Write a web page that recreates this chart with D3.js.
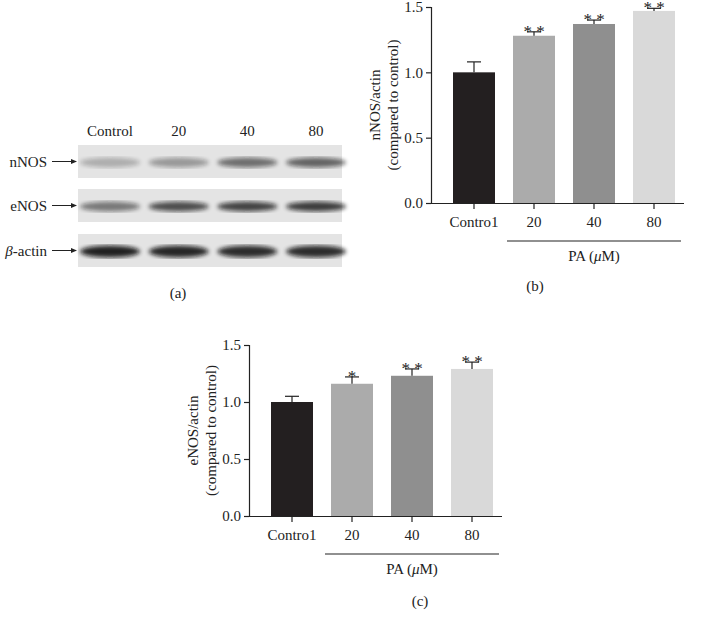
<!DOCTYPE html>
<html><head><meta charset="utf-8">
<script src="https://cdn.jsdelivr.net/npm/d3@7"></script>
<style>body{margin:0;background:#fff}text{font-family:"Liberation Serif",serif;fill:#222}</style>
</head><body>
<svg id="fig" width="704" height="628"></svg>
<script>
const groups = ["Contro1", "20", "40", "80"];
const blotLanes = ["Control", "20", "40", "80"];
const barColors = ["#231f20", "#ababab", "#8f8f8f", "#d9d9d9"];
const nnosMean = [1.0, 1.28, 1.37, 1.47];
const nnosErr = [0.08, 0.03, 0.03, 0.02];
const nnosSig = ["", "**", "**", "**"];
const enosMean = [1.0, 1.16, 1.23, 1.29];
const enosErr = [0.05, 0.06, 0.06, 0.06];
const enosSig = ["", "*", "**", "**"];
const yTicks = [0, 0.5, 1.0, 1.5];
// band darkness per lane (0..1)
const blotRows = ["nNOS", "eNOS", "β-actin"];
const bandDark = [[0.25, 0.35, 0.55, 0.6], [0.5, 0.7, 0.75, 0.78], [0.9, 0.88, 0.85, 0.85]];

const svg = d3.select("#fig");
const defs = svg.append("defs");
defs.append("filter").attr("id", "blur").append("feGaussianBlur").attr("stdDeviation", 2.2);

function barPanel(o) {
  const x = d3.scaleBand().domain(groups).range([o.x0, o.x0 + 240]).paddingInner(0.3).paddingOuter(0.15);
  const y = d3.scaleLinear().domain([0, 1.5]).range([o.yb, o.yt]);
  const g = svg.append("g");
  g.selectAll(".bar").data(groups).join("rect")
    .attr("x", d => x(d)).attr("width", x.bandwidth())
    .attr("y", (d, i) => y(o.mean[i])).attr("height", (d, i) => y(0) - y(o.mean[i]))
    .attr("fill", (d, i) => barColors[i]);
  const eg = g.selectAll(".err").data(groups).join("g").attr("stroke", "#222").attr("stroke-width", 1.2);
  eg.append("line").attr("x1", d => x(d) + x.bandwidth() / 2).attr("x2", d => x(d) + x.bandwidth() / 2)
    .attr("y1", (d, i) => y(o.mean[i])).attr("y2", (d, i) => y(o.mean[i] + o.err[i]));
  eg.append("line").attr("x1", d => x(d) + x.bandwidth() / 2 - 7).attr("x2", d => x(d) + x.bandwidth() / 2 + 7)
    .attr("y1", (d, i) => y(o.mean[i] + o.err[i])).attr("y2", (d, i) => y(o.mean[i] + o.err[i]));
  g.selectAll(".sig").data(groups).join("text")
    .attr("x", d => x(d) + x.bandwidth() / 2).attr("y", (d, i) => Math.max(11, y(o.mean[i] + o.err[i]) + 5))
    .attr("text-anchor", "middle").attr("font-size", 17)
    .text((d, i) => o.sig[i].split("").join(" "));
  const ya = g.append("g").attr("transform", `translate(${o.ax},0)`)
    .call(d3.axisLeft(y).tickValues(yTicks).tickFormat(d3.format(".1f")).tickSizeOuter(0).tickSize(5));
  ya.selectAll("text").attr("font-size", 15);
  const xa = g.append("g").attr("transform", `translate(0,${o.yb})`)
    .call(d3.axisBottom(x).tickSizeOuter(0).tickSize(6));
  xa.selectAll("text").attr("font-size", 15).attr("dy", "1.0em");
  xa.select(".domain").attr("d", `M${o.ax},0.5H${o.x0 + 240}`);
  g.selectAll(".domain,.tick line").attr("stroke", "#222").attr("stroke-width", 1.2);
  const lx0 = x("20") - 6, lx1 = x("80") + x.bandwidth() + 6;
  g.append("line").attr("x1", lx0).attr("x2", lx1).attr("y1", o.yb + 38).attr("y2", o.yb + 38).attr("stroke", "#222").attr("stroke-width", 1.2);
  const t = g.append("text").attr("x", (lx0 + lx1) / 2).attr("y", o.yb + 58).attr("text-anchor", "middle").attr("font-size", 15);
  t.append("tspan").text("PA (");
  t.append("tspan").attr("font-style", "italic").text("μ");
  t.append("tspan").text("M)");
  const lab = g.append("text").attr("transform", `translate(${o.ax - 42},${(o.yt + o.yb) / 2}) rotate(-90)`)
    .attr("text-anchor", "middle").attr("font-size", 15);
  lab.append("tspan").attr("x", 0).attr("dy", "-0.6em").text(o.label);
  lab.append("tspan").attr("x", 0).attr("dy", "1.2em").text("(compared to control)");
  svg.append("text").attr("x", o.capX).attr("y", o.capY).attr("text-anchor", "middle").attr("font-size", 15).text(o.cap);
}

barPanel({x0: 444, ax: 431, yt: 7, yb: 203, mean: nnosMean, err: nnosErr, sig: nnosSig, label: "nNOS/actin", cap: "(b)", capX: 535, capY: 291});
barPanel({x0: 262, ax: 249, yt: 345, yb: 516, mean: enosMean, err: enosErr, sig: enosSig, label: "eNOS/actin", cap: "(c)", capX: 420, capY: 606});

// western blot panel (a)
const lx = d3.scalePoint().domain(blotLanes).range([110, 316]);
const rowY = [145, 189, 234];
const rowH = 33;
svg.selectAll(".lane").data(blotLanes).join("text")
  .attr("x", d => lx(d)).attr("y", 136).attr("text-anchor", "middle").attr("font-size", 15).text(d => d);
blotRows.forEach((r, ri) => {
  const g = svg.append("g");
  g.append("rect").attr("x", 78).attr("y", rowY[ri]).attr("width", 264).attr("height", rowH).attr("fill", "#e4e4e4");
  g.selectAll("ellipse").data(blotLanes).join("ellipse")
    .attr("cx", d => lx(d)).attr("cy", rowY[ri] + rowH / 2 + 1).attr("rx", 30).attr("ry", ri === 2 ? 6 : 5)
    .attr("fill", "#111").attr("opacity", (d, i) => bandDark[ri][i]).attr("filter", "url(#blur)");
  const ty = rowY[ri] + rowH / 2;
  const t = g.append("text").attr("x", 47).attr("y", ty + 5).attr("text-anchor", "end").attr("font-size", 15);
  if (r === "β-actin") { t.append("tspan").attr("font-style", "italic").text("β"); t.append("tspan").text("-actin"); }
  else t.text(r);
  g.append("line").attr("x1", 52).attr("x2", 73).attr("y1", ty).attr("y2", ty).attr("stroke", "#222");
  g.append("path").attr("d", `M77,${ty}l-6,-2.5v5z`).attr("fill", "#222");
});
svg.append("text").attr("x", 178).attr("y", 298).attr("text-anchor", "middle").attr("font-size", 15).text("(a)");
</script>
</body></html>
